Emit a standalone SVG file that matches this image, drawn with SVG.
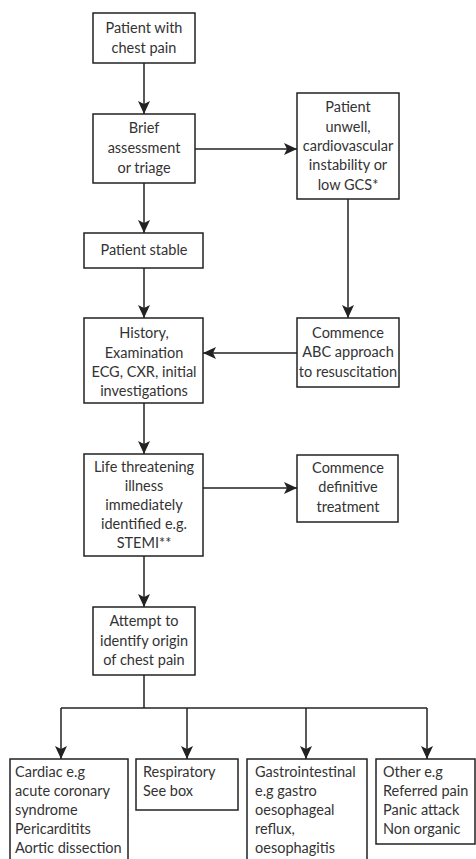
<svg xmlns="http://www.w3.org/2000/svg" width="476" height="859" viewBox="0 0 476 859">
<style>
.box{fill:#fff;stroke:#222;stroke-width:1.5}
.t{font-family:Lato,"Open Sans",sans-serif;font-size:14.5px;fill:#333;text-anchor:middle}
.l{font-family:Lato,"Open Sans",sans-serif;font-size:14.5px;fill:#333;text-anchor:start}
.c{fill:none;stroke:#222;stroke-width:1.5}
</style>
<defs>
<marker id="ah" markerUnits="userSpaceOnUse" markerWidth="14" markerHeight="12" refX="13" refY="6" orient="auto">
<path d="M0,0 L13,6 L0,12 L3,6 z" fill="#222"/>
</marker>
</defs>
<rect width="476" height="859" fill="#fff"/>
<g id="connectors">
<line class="c" x1="144" y1="63" x2="144" y2="114" marker-end="url(#ah)"/>
<line class="c" x1="195" y1="149" x2="297" y2="149" marker-end="url(#ah)"/>
<line class="c" x1="144" y1="183" x2="144" y2="233" marker-end="url(#ah)"/>
<line class="c" x1="348" y1="199" x2="348" y2="318" marker-end="url(#ah)"/>
<line class="c" x1="144" y1="268" x2="144" y2="318" marker-end="url(#ah)"/>
<line class="c" x1="297" y1="353" x2="203" y2="353" marker-end="url(#ah)"/>
<line class="c" x1="144" y1="403" x2="144" y2="454" marker-end="url(#ah)"/>
<line class="c" x1="203" y1="488" x2="297" y2="488" marker-end="url(#ah)"/>
<line class="c" x1="144" y1="556" x2="144" y2="607" marker-end="url(#ah)"/>
<polyline class="c" points="144,675 144,708"/>
<line class="c" x1="61" y1="708" x2="427" y2="708"/>
<line class="c" x1="61" y1="708" x2="61" y2="759" marker-end="url(#ah)"/>
<line class="c" x1="187" y1="708" x2="187" y2="759" marker-end="url(#ah)"/>
<line class="c" x1="306" y1="708" x2="306" y2="759" marker-end="url(#ah)"/>
<line class="c" x1="427" y1="708" x2="427" y2="759" marker-end="url(#ah)"/>
</g>
<g id="n1">
<rect class="box" x="93" y="13" width="102" height="50"/>
<text class="t" x="144" y="33">Patient with</text>
<text class="t" x="144" y="53">chest pain</text>
</g>
<g id="n2">
<rect class="box" x="93" y="114" width="102" height="69"/>
<text class="t" x="144" y="133">Brief</text>
<text class="t" x="144" y="153">assessment</text>
<text class="t" x="144" y="173">or triage</text>
</g>
<g id="n3">
<rect class="box" x="297" y="93" width="102" height="106"/>
<text class="t" x="348" y="112">Patient</text>
<text class="t" x="348" y="132">unwell,</text>
<text class="t" x="348" y="151">cardiovascular</text>
<text class="t" x="348" y="170">instability or</text>
<text class="t" x="348" y="190">low GCS*</text>
</g>
<g id="n4">
<rect class="box" x="84" y="233" width="119" height="35"/>
<text class="t" x="144" y="255">Patient stable</text>
</g>
<g id="n5">
<rect class="box" x="84" y="318" width="119" height="85"/>
<text class="t" x="144" y="338">History,</text>
<text class="t" x="144" y="358">Examination</text>
<text class="t" x="144" y="377">ECG, CXR, initial</text>
<text class="t" x="144" y="396">investigations</text>
</g>
<g id="n6">
<rect class="box" x="297" y="318" width="102" height="69"/>
<text class="t" x="348" y="338">Commence</text>
<text class="t" x="348" y="357">ABC approach</text>
<text class="t" x="348" y="377">to resuscitation</text>
</g>
<g id="n7">
<rect class="box" x="84" y="454" width="119" height="102"/>
<text class="t" x="144" y="472">Life threatening</text>
<text class="t" x="144" y="491">illness</text>
<text class="t" x="144" y="510">immediately</text>
<text class="t" x="144" y="529">identified e.g.</text>
<text class="t" x="144" y="548">STEMI**</text>
</g>
<g id="n8">
<rect class="box" x="297" y="455" width="101" height="67"/>
<text class="t" x="348" y="473">Commence</text>
<text class="t" x="348" y="492">definitive</text>
<text class="t" x="348" y="512">treatment</text>
</g>
<g id="n9">
<rect class="box" x="93" y="607" width="102" height="68"/>
<text class="t" x="144" y="626">Attempt to</text>
<text class="t" x="144" y="646">identify origin</text>
<text class="t" x="144" y="665">of chest pain</text>
</g>
<g id="n10">
<rect class="box" x="10" y="759" width="118" height="105"/>
<text class="l" x="15" y="777">Cardiac e.g</text>
<text class="l" x="15" y="796">acute coronary</text>
<text class="l" x="15" y="815">syndrome</text>
<text class="l" x="15" y="834">Pericarditits</text>
<text class="l" x="15" y="853">Aortic dissection</text>
</g>
<g id="n11">
<rect class="box" x="136" y="759" width="102" height="51"/>
<text class="l" x="143" y="777">Respiratory</text>
<text class="l" x="143" y="796">See box</text>
</g>
<g id="n12">
<rect class="box" x="247" y="759" width="120" height="105"/>
<text class="l" x="255" y="777">Gastrointestinal</text>
<text class="l" x="255" y="796">e.g gastro</text>
<text class="l" x="255" y="815">oesophageal</text>
<text class="l" x="255" y="834">reflux,</text>
<text class="l" x="255" y="853">oesophagitis</text>
</g>
<g id="n13">
<rect class="box" x="376" y="759" width="99" height="85"/>
<text class="l" x="383" y="777">Other e.g</text>
<text class="l" x="383" y="796">Referred pain</text>
<text class="l" x="383" y="815">Panic attack</text>
<text class="l" x="383" y="834">Non organic</text>
</g>
</svg>
